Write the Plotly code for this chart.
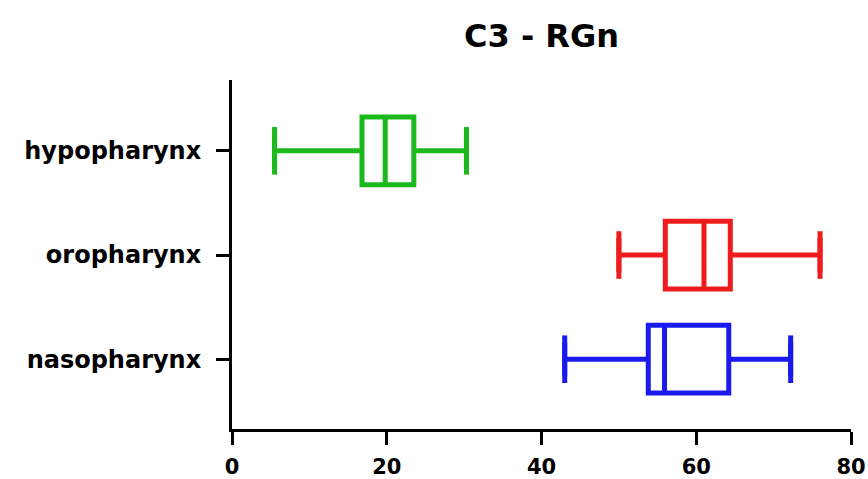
import plotly.graph_objects as go

categories = ["nasopharynx", "oropharynx", "hypopharynx"]
lower_whisker = [43.0, 50.0, 5.5]
q1_values = [53.8, 56.0, 16.8]
medians = [55.9, 61.0, 19.8]
q3_values = [64.2, 64.4, 23.5]
upper_whisker = [72.2, 76.0, 30.3]
colors = ["#1a1aee", "#ee1c1c", "#1cb91c"]
x_ticks = [0, 20, 40, 60, 80]

fig = go.Figure()
for i, cat in enumerate(categories):
    fig.add_trace(go.Box(
        y=[cat], q1=[q1_values[i]], median=[medians[i]], q3=[q3_values[i]],
        lowerfence=[lower_whisker[i]], upperfence=[upper_whisker[i]],
        orientation="h", width=0.65, boxpoints=False,
        line=dict(color=colors[i], width=5), fillcolor="rgba(0,0,0,0)",
        hoverinfo="skip", showlegend=False,
    ))
    fig.add_trace(go.Scatter(
        x=[lower_whisker[i], upper_whisker[i]], y=[cat, cat], mode="markers",
        marker=dict(symbol="line-ns", size=34, color=colors[i],
                    line=dict(width=5, color=colors[i])),
        hoverinfo="skip", showlegend=False,
    ))

fig.update_layout(
    width=868, height=479,
    margin=dict(l=232, r=17, t=80, b=50, autoexpand=False),
    plot_bgcolor="white", paper_bgcolor="white",
    title=dict(text="<b>C3 - RGn</b>", x=0.5, xref="paper", y=0.925, yanchor="middle",
               font=dict(family="DejaVu Sans", size=32, color="black")),
    xaxis=dict(range=[0, 80], tickvals=x_ticks, showgrid=False, zeroline=False,
               automargin=False,
               showline=True, linecolor="black", linewidth=3,
               ticks="outside", ticklen=13, tickwidth=3, tickcolor="black",
               ticklabelstandoff=4,
               tickfont=dict(family="DejaVu Sans", size=21, color="black", weight="bold")),
    yaxis=dict(type="category", categoryorder="array", categoryarray=categories,
               range=[-0.67, 2.68], showgrid=False, zeroline=False,
               automargin=False,
               showline=True, linecolor="black", linewidth=3,
               ticks="outside", ticklen=13, tickwidth=3, tickcolor="black",
               ticklabelstandoff=10,
               tickfont=dict(family="DejaVu Sans", size=24, color="black", weight="bold")),
)

fig.write_html("out.html")
